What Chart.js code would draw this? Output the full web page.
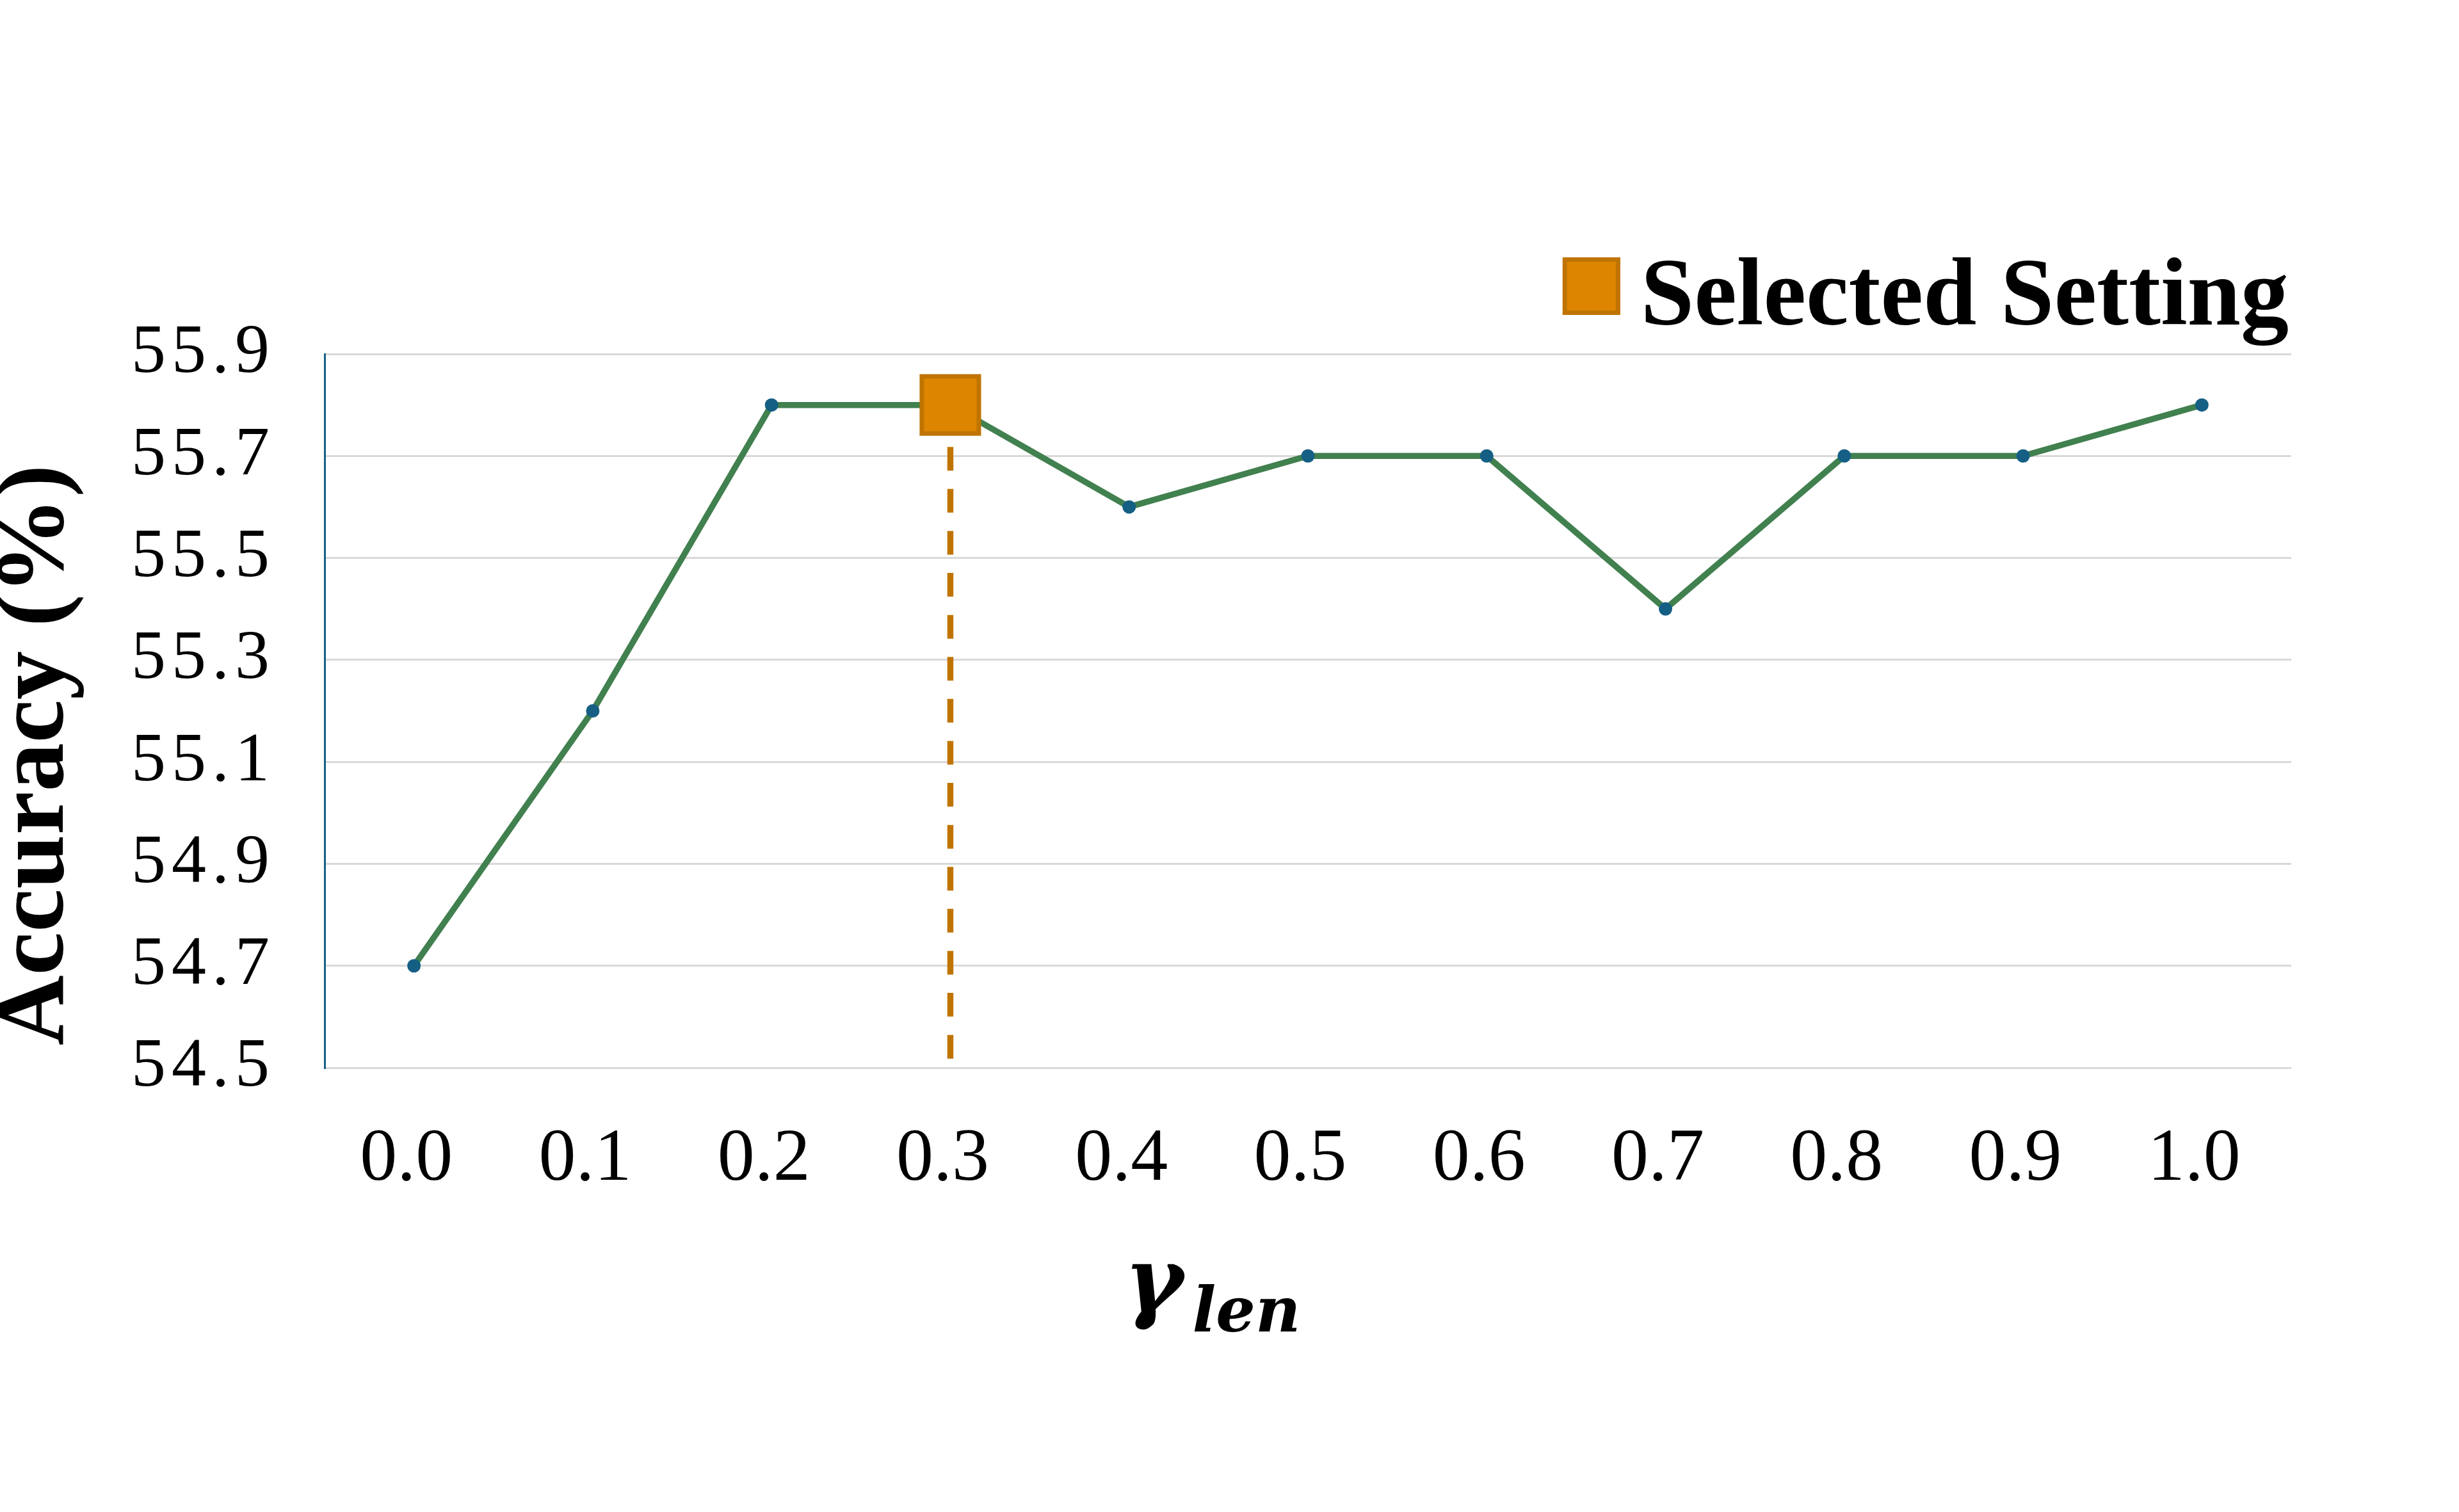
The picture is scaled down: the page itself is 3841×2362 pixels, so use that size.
<!DOCTYPE html>
<html>
<head>
<meta charset="utf-8">
<script src="https://cdn.jsdelivr.net/npm/chart.js@4.4.1/dist/chart.umd.min.js"></script>
<style>
  html, body { margin: 0; padding: 0; background: #ffffff; }
  #wrap { width: 3841px; height: 2362px; }
</style>
</head>
<body>
<div id="wrap"><canvas id="c" width="3841" height="2362"></canvas></div>
<script>
// ---- data ----
const categories = ['0.0', '0.1', '0.2', '0.3', '0.4', '0.5', '0.6', '0.7', '0.8', '0.9', '1.0'];
const accuracy = [54.7, 55.2, 55.8, 55.8, 55.6, 55.7, 55.7, 55.4, 55.7, 55.7, 55.8];
const selectedCategory = '0.3';
const selectedValue = 55.8;
const yTickValues = [54.5, 54.7, 54.9, 55.1, 55.3, 55.5, 55.7, 55.9];
const yAxisTitle = 'Accuracy (%)';
const legendLabel = 'Selected Setting';
const xTitleMain = 'γ';
const xTitleSub = 'len';

const yMin = yTickValues[0];
const yMax = yTickValues[yTickValues.length - 1];

const selectedData = categories.map(c => c === selectedCategory ? selectedValue : null);
const dropData = [{ x: selectedCategory, y: selectedValue }, { x: selectedCategory, y: yMin }];

// legend swatch (square, nudged toward the text and up)
function makeLegendSquare(shiftX, shiftY) {
  const size = 90, bw = 7;
  const c = document.createElement('canvas');
  c.width = size + 2 * shiftX;
  c.height = size + 2 * shiftY;
  const g = c.getContext('2d');
  g.fillStyle = '#DD8500';
  g.strokeStyle = '#C07400';
  g.lineWidth = bw;
  g.fillRect(2 * shiftX + bw / 2, bw / 2, size - bw, size - bw);
  g.strokeRect(2 * shiftX + bw / 2, bw / 2, size - bw, size - bw);
  return c;
}
const legendSquare = makeLegendSquare(43, 21);

// y tick labels (drawn in a layer above datasets) are slightly letter-spaced
const spacingPlugin = {
  id: 'spacingPlugin',
  afterDatasetsDraw(chart) { chart.ctx.letterSpacing = '9px'; },
  afterDraw(chart) { chart.ctx.letterSpacing = '0px'; }
};

const titlesPlugin = {
  id: 'titlesPlugin',
  afterDraw(chart) {
    const ctx = chart.ctx;
    const area = chart.chartArea;
    ctx.save();
    ctx.letterSpacing = '0px';
    ctx.fillStyle = '#000000';
    // x-axis title: gamma with subscript "len"
    const startX = (area.left + area.right) / 2 - 287;
    ctx.textAlign = 'left';
    ctx.textBaseline = 'alphabetic';
    ctx.font = 'italic bold 140px "DejaVu Serif"';
    ctx.fillText(xTitleMain, startX, area.bottom + 380);
    const w = ctx.measureText(xTitleMain).width;
    ctx.font = 'italic bold 97px "DejaVu Serif"';
    ctx.fillText(xTitleSub, startX + w + 14, area.bottom + 412);
    // y-axis title
    ctx.translate(area.left - 448, (area.top + area.bottom) / 2 + 69);
    ctx.rotate(-Math.PI / 2);
    ctx.textAlign = 'center';
    ctx.textBaseline = 'middle';
    ctx.font = 'bold 152px "Liberation Serif"';
    ctx.fillText(yAxisTitle, 0, 0);
    ctx.restore();
  }
};

Chart.defaults.font.family = '"Liberation Serif", "Times New Roman", serif';
Chart.defaults.color = '#000000';

new Chart(document.getElementById('c'), {
  type: 'line',
  data: {
    labels: categories,
    datasets: [
      {
        label: legendLabel,
        data: selectedData,
        order: 0,
        showLine: false,
        pointStyle: 'rect',
        pointRadius: 63,
        pointHoverRadius: 63,
        pointBackgroundColor: '#DD8500',
        pointBorderColor: '#C07400',
        pointBorderWidth: 7,
        backgroundColor: '#DD8500',
        borderColor: '#C07400',
        borderWidth: 7
      },
      {
        label: 'Accuracy',
        data: accuracy,
        order: 1,
        borderColor: '#41804F',
        borderWidth: 9.5,
        tension: 0,
        fill: false,
        pointRadius: 10.5,
        pointHoverRadius: 10.5,
        pointBackgroundColor: '#155F85',
        pointBorderWidth: 0
      },
      {
        label: 'drop',
        data: dropData,
        order: 2,
        borderColor: '#C07400',
        borderWidth: 9.5,
        borderDash: [37, 28.6],
        pointRadius: 0,
        fill: false
      }
    ]
  },
  options: {
    responsive: false,
    animation: false,
    devicePixelRatio: 1,
    layout: { padding: { top: 389, right: 262, bottom: 0, left: 0 } },
    plugins: {
      tooltip: { enabled: false },
      legend: {
        display: true,
        position: 'top',
        align: 'end',
        labels: {
          filter: item => item.text === legendLabel,
          usePointStyle: true,
          pointStyle: legendSquare,
          pointStyleWidth: 90,
          boxWidth: 90,
          boxHeight: 90,
          padding: 4,
          color: '#000000',
          font: { size: 150, weight: 'bold', family: '"Liberation Serif", serif' }
        }
      }
    },
    scales: {
      x: {
        type: 'category',
        offset: true,
        grid: { display: false, drawTicks: false },
        border: { display: false },
        ticks: {
          z: 0,
          padding: 75,
          labelOffset: -12,
          color: '#000000',
          maxRotation: 0,
          autoSkip: false,
          font: { size: 116, family: '"Liberation Serif", serif' }
        },
        afterFit(scale) { scale.height = 694; }
      },
      y: {
        min: yMin,
        max: yMax,
        afterBuildTicks(scale) { scale.ticks = yTickValues.map(v => ({ value: v })); },
        grid: { color: '#D9D9D9', lineWidth: 3, drawTicks: false },
        border: { display: true, color: '#155F85', width: 3 },
        ticks: {
          z: 1,
          padding: 77,
          color: '#000000',
          font: { size: 108, family: '"Liberation Serif", serif' },
          callback: v => Number(v).toFixed(1)
        },
        title: { display: false },
        afterFit(scale) { scale.width = 507; }
      }
    }
  },
  plugins: [spacingPlugin, titlesPlugin]
});
</script>
</body>
</html>
